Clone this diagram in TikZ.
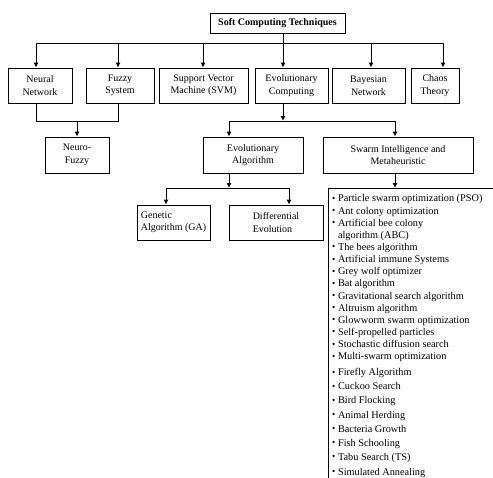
\documentclass[tikz,border=0pt]{standalone}
\usepackage{fontspec}
\setmainfont{Liberation Serif}
\usetikzlibrary{arrows.meta}
\newcommand{\sitem}[1]{\raisebox{0.05em}{\scalebox{0.9}{\textbullet}}\ #1}

\begin{document}
\begin{tikzpicture}[x=1pt, y=-1pt, font=\fontsize{10}{12.5}\selectfont,
	box/.style = {draw, line width=0.9pt, inner sep=1pt, align=center, minimum height=35},
	arr/.style = {-{Latex[length=5pt,width=5pt]}, line width=0.9pt},
	ln/.style = {line width=0.9pt}]
			\useasboundingbox (0,0) rectangle (493,477);
			
			\node[box, minimum width=135, minimum height=20, font=\fontsize{10}{12}\selectfont\bfseries] (sct) at (277.5,23) {Soft Computing Techniques};
			
			\node[box, minimum width=64] (nn) at (40,85.5) {Neural\\Network};
			\node[box, minimum width=68] (fs) at (120,85.5) {Fuzzy\\System};
			\node[box, minimum width=89] (svm) at (203.5,85.5) {Support Vector\\Machine (SVM)};
			\node[box, minimum width=73] (ec) at (291.5,85.5) {Evolutionary\\Computing};
			\node[box, minimum width=73] (bn) at (368.5,85.5) {Bayesian\\Network};
			\node[box, minimum width=48] (ct) at (435,85.5) {Chaos\\Theory};
			
			\node[box, minimum width=64, minimum height=36] (nf) at (77,155) {Neuro-\\Fuzzy};
			\node[box, minimum width=100, minimum height=36] (ea) at (253,155) {Evolutionary\\Algorithm};
			\node[box, minimum width=150, minimum height=36] (si) at (398,155) {Swarm Intelligence and\\Metaheuristic};
			
			\node[box, minimum width=73, align=left] (ga) at (173.5,222.5) {Genetic\\Algorithm (GA)};
			\node[box, minimum width=94, align=left] (de) at (276,222.5) {Differential\\Evolution};
			
			\node[draw, line width=0.9pt, anchor=north west, minimum width=200, minimum height=320] (sl) at (328,188) {};
			\node[anchor=north west, inner sep=0pt, align=left, font=\fontsize{10.3}{12.15}\selectfont] (items) at (332,194.5) {%
				\sitem{Particle swarm optimization (PSO)}\\
				\sitem{Ant colony optimization}\\
				\sitem{Artificial bee colony}\\
				\phantom{\sitem{}}algorithm (ABC)\\
				\sitem{The bees algorithm}\\
				\sitem{Artificial immune Systems}\\
				\sitem{Grey wolf optimizer}\\
				\sitem{Bat algorithm}\\
				\sitem{Gravitational search algorithm}\\
				\sitem{Altruism algorithm}\\
				\sitem{Glowworm swarm optimization}\\
				\sitem{Self-propelled particles}\\
				\sitem{Stochastic diffusion search}\\
				\sitem{Multi-swarm optimization}\\[3.9pt]
				\sitem{Firefly Algorithm}\\[1.9pt]
				\sitem{Cuckoo Search}\\[1.9pt]
				\sitem{Bird Flocking}\\[1.9pt]
				\sitem{Animal Herding}\\[1.9pt]
				\sitem{Bacteria Growth}\\[1.9pt]
				\sitem{Fish Schooling}\\[1.9pt]
				\sitem{Tabu Search (TS)}\\[2.9pt]
				\sitem{Simulated Annealing}};
			
			\coordinate (top) at (283,43);
			\draw[ln] (sct.south -| top) -- (top);
			\foreach \n/\x in {nn/36, fs/118, svm/203, ec/283, bn/371, ct/443}
				\coordinate (b\n) at (\x,43);
			\draw[ln] (bnn) -- (bct);
			\foreach \n in {nn, fs, svm, ec, bn, ct}
				\draw[arr] (b\n) -- (b\n |- \n.north);
			
			\coordinate (nfl) at (36,121);
			\coordinate (nfr) at (118,121);
			\draw[ln] (nfl |- nn.south) -- (nfl) -- (nfr) -- (nfr |- fs.south);
			\draw[arr] (nf.north |- nfl) -- (nf.north);
			
			\coordinate (ecb) at (283,121);
			\coordinate (eal) at (229,121);
			\coordinate (sir) at (395,121);
			\draw[arr] (ecb |- ec.south) -- (ecb);
			\draw[ln] (eal) -- (sir);
			\draw[arr] (eal) -- (eal |- ea.north);
			\draw[arr] (sir) -- (sir |- si.north);
			
			\coordinate (eab) at (229,188);
			\coordinate (gal) at (166,188);
			\coordinate (der) at (289,188);
			\draw[arr] (eab |- ea.south) -- (eab);
			\draw[ln] (gal) -- (der);
			\draw[arr] (gal) -- (gal |- ga.north);
			\draw[arr] (der) -- (der |- de.north);
			
			\draw[arr] (sir |- si.south) -- (sir |- sl.north);
			
\end{tikzpicture}
\end{document}
